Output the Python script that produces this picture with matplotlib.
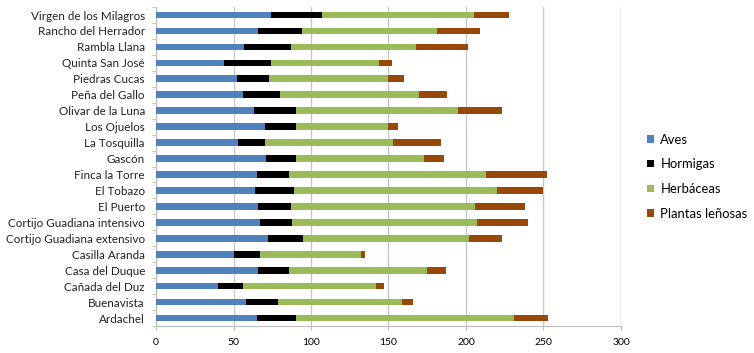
import matplotlib.pyplot as plt
import numpy as np

plt.rcParams['font.family'] = ['Lato', 'DejaVu Sans']

# fincas (top to bottom as in the chart)
fincas = ['Virgen de los Milagros', 'Rancho del Herrador', 'Rambla Llana',
          'Quinta San José', 'Piedras Cucas', 'Peña del Gallo', 'Olivar de la Luna',
          'Los Ojuelos', 'La Tosquilla', 'Gascón', 'Finca la Torre', 'El Tobazo',
          'El Puerto', 'Cortijo Guadiana intensivo', 'Cortijo Guadiana extensivo',
          'Casilla Aranda', 'Casa del Duque', 'Cañada del Duz', 'Buenavista', 'Ardachel']

aves = [74, 66, 57, 44, 52, 56, 63, 70, 53, 71, 65, 64, 66, 67, 72, 50, 66, 40, 58, 65]
hormigas = [33, 28, 30, 30, 21, 24, 27, 20, 17, 19, 21, 25, 21, 21, 23, 17, 20, 16, 21, 25]
herbaceas = [98, 87, 81, 70, 77, 90, 105, 60, 83, 83, 127, 131, 119, 119, 107, 65, 89, 86, 80, 141]
lenosas = [23, 28, 33, 8, 10, 18, 28, 6, 31, 13, 39, 30, 32, 33, 21, 3, 12, 5, 7, 22]

series = [('Aves', aves, '#4F81BD'),
          ('Hormigas', hormigas, '#000000'),
          ('Herbáceas', herbaceas, '#9BBB59'),
          ('Plantas leñosas', lenosas, '#984807')]

fig = plt.figure(figsize=(7.54, 3.53), dpi=100)
ax = fig.add_axes([0.2069, 0.0765, 0.6167, 0.9035])

y = np.arange(len(fincas))
left = np.zeros(len(fincas))
handles = []
for name, vals, col in series:
    b = ax.barh(y, vals, left=left, height=0.42, color=col, label=name, zorder=3)
    left += np.array(vals)
    handles.append(b)

ax.set_ylim(len(fincas) - 0.5, -0.5)
ax.set_xlim(0, 300)
ax.set_xticks(range(0, 301, 50))
ax.set_yticks(y)
ax.set_yticklabels(fincas, fontsize=8.4, color='#222222')
ax.tick_params(axis='x', labelsize=7.5, length=3, color='#bbbbbb', pad=6)
ax.tick_params(axis='y', length=0, pad=8)
# minor ticks between categories on y axis
ax.set_yticks(np.arange(-0.5, len(fincas), 1), minor=True)
ax.tick_params(axis='y', which='minor', length=3, color='#bbbbbb')
ax.grid(axis='x', color='#c8c8c8', linewidth=1, zorder=0)
for s in ['top', 'right']:
    ax.spines[s].set_visible(False)
ax.spines['left'].set_color('#bbbbbb')
ax.spines['bottom'].set_color('#bbbbbb')

fig.legend(handles=handles, loc='upper left', bbox_to_anchor=(0.843, 0.655),
           frameon=False, fontsize=9.4, handlelength=0.5, handleheight=0.5,
           handletextpad=0.5, labelspacing=0.97)

fig.savefig('out.png', dpi=100)
